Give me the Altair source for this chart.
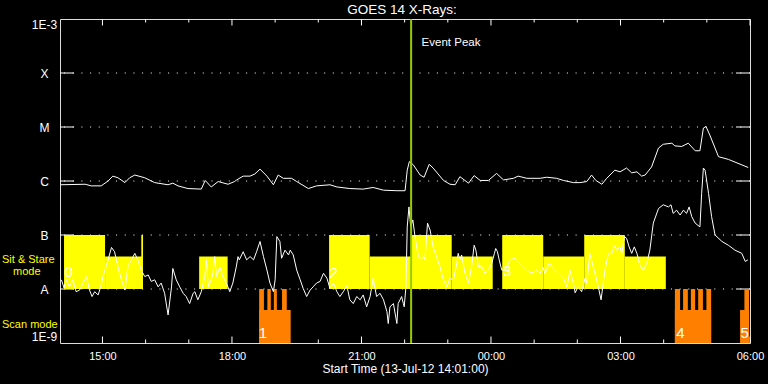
import json
import altair as alt
import pandas as pd

# ---------------- data ----------------
TITLE = "GOES 14 X-Rays:"
X_TITLE = "Start Time (13-Jul-12 14:01:00)"
X_START, X_END = 14 + 1 / 60, 30.0          # hours since 13-Jul-12 00:00
X_TICKS = [15, 18, 21, 24, 27, 30]
X_TICK_LABELS = ["15:00", "18:00", "21:00", "00:00", "03:00", "06:00"]
X_MINOR = [16, 17, 19, 20, 22, 23, 25, 26, 28, 29]
Y_TICKS = [-9, -8, -7, -6, -5, -4, -3]       # log10 flux (W m^-2)
Y_TICK_LABELS = ["1E-9", "A", "B", "C", "M", "X", "1E-3"]
Y_GRID = [-8, -7, -6, -5, -4]

# long channel (1-8 A)
LONG_T = [14.03, 14.60, 14.74, 14.97, 15.13, 15.24, 15.36, 15.52, 15.63, 15.75, 15.98, 16.21,
          16.52, 16.63, 16.75, 16.98, 17.29, 17.38, 17.52, 17.68, 17.91, 18.06, 18.11, 18.26,
          18.42, 18.53, 18.65, 18.81, 18.96, 19.07, 19.19, 19.38, 19.50, 19.77, 19.96, 20.27,
          20.43, 20.73, 21.04, 21.27, 21.51, 21.82, 22.01, 22.06, 22.11, 22.20, 22.36, 22.45,
          22.57, 22.66, 22.90, 23.05, 23.17, 23.28, 23.48, 23.61, 23.75, 23.94, 24.13, 24.29,
          24.52, 24.63, 24.83, 25.14, 25.29, 25.52, 25.68, 25.91, 26.06, 26.22, 26.33, 26.43,
          26.57, 26.68, 26.87, 26.99, 27.14, 27.26, 27.38, 27.49, 27.57, 27.72, 27.88, 27.99,
          28.19, 28.26, 28.42, 28.57, 28.73, 28.84, 28.92, 28.98, 29.07, 29.27, 29.50, 29.96]
LONG_LOGF = [-6.07, -6.06, -6.09, -6.09, -6.00, -5.91, -5.94, -6.03, -5.94, -5.89, -5.94, -6.03,
             -6.07, -6.04, -6.09, -6.14, -6.15, -5.99, -6.11, -6.01, -6.06, -6.01, -5.98, -5.91,
             -5.91, -5.87, -5.78, -5.91, -6.07, -5.89, -5.95, -5.95, -6.01, -6.14, -6.09, -6.07,
             -6.11, -6.14, -6.15, -6.12, -6.17, -6.18, -6.18, -5.80, -5.64, -5.70, -5.89, -5.93,
             -5.69, -5.76, -5.99, -6.06, -6.07, -5.92, -6.04, -5.90, -5.99, -5.99, -5.86, -5.98,
             -5.95, -5.91, -5.95, -5.95, -5.93, -5.95, -5.99, -6.03, -6.03, -6.01, -5.89, -5.99,
             -6.06, -5.95, -5.80, -5.83, -5.76, -5.85, -5.83, -5.91, -5.89, -5.74, -5.39, -5.32,
             -5.30, -5.35, -5.36, -5.30, -5.44, -5.44, -5.02, -4.99, -5.15, -5.55, -5.60, -5.75]

# short channel (0.5-4 A)
SHORT_T = [14.05, 14.11, 14.16, 14.24, 14.32, 14.39, 14.47, 14.55, 14.63, 14.70, 14.76, 14.82,
           14.90, 14.96, 15.01, 15.13, 15.21, 15.28, 15.36, 15.44, 15.52, 15.59, 15.67, 15.75,
           15.82, 15.90, 15.98, 16.06, 16.13, 16.21, 16.29, 16.36, 16.44, 16.52, 16.60, 16.63,
           16.71, 16.79, 16.87, 16.94, 17.02, 17.10, 17.14, 17.21, 17.29, 17.37, 17.41, 17.45,
           17.52, 17.56, 17.60, 17.64, 17.72, 17.79, 17.87, 17.95, 18.02, 18.10, 18.14, 18.17,
           18.26, 18.34, 18.42, 18.50, 18.57, 18.65, 18.73, 18.81, 18.88, 18.96, 19.00, 19.04,
           19.11, 19.15, 19.23, 19.31, 19.35, 19.42, 19.50, 19.58, 19.65, 19.73, 19.81, 19.88,
           19.96, 20.04, 20.12, 20.20, 20.27, 20.35, 20.43, 20.50, 20.58, 20.66, 20.73, 20.81,
           20.89, 20.97, 21.04, 21.12, 21.20, 21.27, 21.35, 21.43, 21.51, 21.59, 21.62, 21.66,
           21.74, 21.82, 21.85, 21.93, 21.97, 21.99, 22.03, 22.06, 22.10, 22.14, 22.19, 22.24,
           22.32, 22.37, 22.43, 22.47, 22.53, 22.59, 22.66, 22.74, 22.82, 22.90, 22.98, 23.05,
           23.13, 23.21, 23.24, 23.28, 23.32, 23.40, 23.48, 23.55, 23.61, 23.65, 23.71, 23.79,
           23.86, 23.94, 24.02, 24.08, 24.11, 24.15, 24.19, 24.25, 24.33, 24.44, 24.56, 24.67,
           24.83, 24.94, 25.06, 25.14, 25.20, 25.25, 25.35, 25.44, 25.56, 25.68, 25.76, 25.83,
           25.91, 25.95, 26.02, 26.10, 26.18, 26.22, 26.29, 26.37, 26.45, 26.55, 26.64, 26.72,
           26.80, 26.86, 26.91, 26.99, 27.03, 27.09, 27.14, 27.20, 27.26, 27.32, 27.38, 27.45,
           27.53, 27.61, 27.68, 27.76, 27.88, 27.99, 28.11, 28.17, 28.22, 28.30, 28.38, 28.46,
           28.53, 28.59, 28.65, 28.73, 28.84, 28.88, 28.92, 28.96, 29.04, 29.11, 29.19, 29.35,
           29.50, 29.65, 29.81, 29.89, 29.95]
SHORT_LOGF = [-7.83, -7.98, -7.83, -7.96, -7.83, -8.05, -8.02, -7.89, -7.77, -8.02, -8.14, -8.05,
              -8.11, -7.96, -7.77, -7.46, -7.23, -7.31, -7.59, -7.83, -8.02, -7.59, -7.46, -7.34,
              -7.46, -7.65, -7.77, -7.74, -7.86, -7.83, -7.96, -7.89, -8.08, -8.48, -7.96, -7.62,
              -7.83, -7.96, -8.08, -8.14, -8.27, -8.08, -8.05, -8.20, -8.05, -7.77, -7.46, -7.96,
              -7.83, -7.71, -7.40, -7.77, -7.59, -7.77, -7.89, -8.05, -7.89, -7.59, -7.40, -7.46,
              -7.31, -7.46, -7.40, -7.46, -7.31, -7.12, -7.40, -7.65, -7.89, -8.05, -7.83, -7.03,
              -7.12, -7.43, -7.28, -7.37, -7.28, -7.37, -7.65, -7.83, -7.99, -8.14, -8.02, -7.96,
              -7.89, -7.86, -7.71, -7.80, -7.99, -7.89, -8.05, -8.14, -8.05, -7.93, -8.20, -8.27,
              -8.14, -8.20, -8.11, -8.33, -8.14, -7.80, -8.14, -8.08, -8.20, -8.42, -8.64, -8.33,
              -8.27, -8.64, -8.27, -8.14, -8.27, -8.33, -7.96, -6.85, -6.48, -6.85, -6.72, -7.03,
              -7.40, -7.46, -7.40, -7.46, -6.78, -6.91, -7.22, -7.40, -7.59, -7.83, -7.96, -7.80,
              -7.83, -7.52, -7.34, -7.46, -7.37, -7.71, -7.89, -7.59, -7.19, -7.28, -7.59, -7.59,
              -7.71, -7.65, -7.52, -7.34, -7.25, -7.31, -7.46, -7.65, -7.65, -7.46, -7.43, -7.52,
              -7.65, -7.71, -7.65, -7.71, -7.59, -7.71, -7.52, -7.62, -7.71, -7.80, -7.96, -7.65,
              -7.89, -8.07, -7.96, -8.05, -7.80, -7.89, -7.34, -7.59, -7.83, -8.20, -7.65, -7.34,
              -7.34, -7.19, -7.28, -7.22, -7.34, -7.03, -7.06, -7.22, -7.34, -7.22, -7.34, -7.56,
              -7.65, -7.52, -7.28, -6.78, -6.51, -6.44, -6.48, -6.44, -6.60, -6.54, -6.63, -6.54,
              -6.60, -6.48, -6.66, -6.78, -6.85, -6.23, -5.76, -5.80, -6.23, -6.66, -7.00, -7.12,
              -7.19, -7.28, -7.34, -7.49, -7.46]

# Sit & Stare mode intervals (yellow)
SIT_START = [14.11, 15.06, 15.90, 17.24, 20.25, 21.19, 22.15, 23.09, 24.26, 25.21, 26.16, 27.10]
SIT_END = [15.06, 15.93, 15.94, 17.90, 21.19, 22.15, 23.09, 24.04, 25.21, 26.16, 27.10, 28.05]
SIT_TOP = [-7.0, -7.4, -7.0, -7.4, -7.0, -7.4, -7.0, -7.4, -7.0, -7.4, -7.0, -7.4]
SIT_BASE = -8.0

# Scan mode intervals (orange)
SCAN_START = [18.63, 18.63, 18.82, 18.97, 19.16,
              28.26, 28.26, 28.45, 28.63, 28.80, 28.99,
              29.77, 29.87]
SCAN_END = [19.36, 18.74, 18.90, 19.04, 19.27,
            29.10, 28.38, 28.56, 28.73, 28.91, 29.10,
            29.98, 29.98]
SCAN_TOP = [-8.39, -8.0, -8.0, -8.0, -8.0,
            -8.39, -8.0, -8.0, -8.0, -8.0, -8.0,
            -8.39, -8.0]
SCAN_BASE = -9.0

EVENT_PEAK = 22.15
EVENT_LABEL = "Event Peak"
EVENT_LABEL_Y = -3.44

BLOCK_LABELS = ["0", "1", "2", "3", "4", "5"]
BLOCK_LABEL_T = [14.12, 18.62, 20.26, 24.28, 28.29, 29.78]
BLOCK_LABEL_Y = [-7.69, -8.81, -7.70, -7.67, -8.81, -8.81]

# side labels, placed by their text baseline (log10 flux)
MODE_LABELS = ["Sit & Stare", "Scan mode"]
MODE_LABEL_Y = [-7.52, -8.72]
MODE_LABEL2 = ["mode"]
MODE_LABEL2_Y = [-7.74]

# ---------------- chart ----------------
W, H = 690, 324
FONT = "Liberation Sans"
YELLOW = "#ffff00"
ORANGE = "#ff8000"
GREEN = "#99cc00"

xscale = alt.Scale(domain=[X_START, X_END], nice=False, zero=False)
yscale = alt.Scale(domain=[-9, -3], nice=False, zero=False)

x_axis = alt.Axis(
    values=X_TICKS,
    labelExpr=f"{json.dumps(X_TICK_LABELS)}[indexof({json.dumps(X_TICKS)}, datum.value)]",
    ticks=False, tickSize=0, domain=False, grid=False,
    labelColor="white", labelFont=FONT, labelFontSize=11, labelPadding=7,
    labelFlush=False, labelOverlap=False,
    title=X_TITLE, titleColor="white", titleFont=FONT, titleFontSize=12,
    titleFontWeight="normal", titleX=W / 2, titleY=29, titleAlign="center",
    titleBaseline="alphabetic",
)
y_axis = alt.Axis(
    values=Y_TICKS,
    labelExpr=f"{json.dumps(Y_TICK_LABELS)}[indexof({json.dumps(Y_TICKS)}, datum.value)]",
    ticks=False, tickSize=0, domain=False, grid=False,
    labelColor="white", labelFont=FONT, labelFontSize=12, labelPadding=16,
    labelAlign="center", labelFlush=True, labelOverlap=False, title=None,
)


def X(field):
    return alt.X(f"{field}:Q", scale=xscale, axis=x_axis)


def Y(field):
    return alt.Y(f"{field}:Q", scale=yscale, axis=y_axis)


grid_df = pd.DataFrame({"v": Y_GRID})
grid = alt.Chart(grid_df).mark_rule(color="white", strokeWidth=1, strokeDash=[1, 7.67]).encode(y=Y("v"))
ytick_l = alt.Chart(grid_df).mark_rule(color="white", strokeWidth=1).encode(
    y=Y("v"), x=alt.value(0), x2=alt.value(14))
ytick_r = alt.Chart(grid_df).mark_rule(color="white", strokeWidth=1).encode(
    y=Y("v"), x=alt.value(W - 14), x2=alt.value(W))

major_df = pd.DataFrame({"t": X_TICKS})
minor_df = pd.DataFrame({"t": X_MINOR})
xt_major_b = alt.Chart(major_df).mark_rule(color="white").encode(x=X("t"), y=alt.value(H - 6.5), y2=alt.value(H))
xt_major_t = alt.Chart(major_df).mark_rule(color="white").encode(x=X("t"), y=alt.value(0), y2=alt.value(6.5))
xt_minor_b = alt.Chart(minor_df).mark_rule(color="white").encode(x=X("t"), y=alt.value(H - 3.5), y2=alt.value(H))
xt_minor_t = alt.Chart(minor_df).mark_rule(color="white").encode(x=X("t"), y=alt.value(0), y2=alt.value(3.5))

sit_df = pd.DataFrame({"t0": SIT_START, "t1": SIT_END, "top": SIT_TOP, "base": [SIT_BASE] * len(SIT_START)})
sit = alt.Chart(sit_df).mark_rect(color=YELLOW).encode(x=X("t0"), x2="t1", y=Y("base"), y2="top")

scan_df = pd.DataFrame({"t0": SCAN_START, "t1": SCAN_END, "top": SCAN_TOP, "base": [SCAN_BASE] * len(SCAN_START)})
scan = alt.Chart(scan_df).mark_rect(color=ORANGE).encode(x=X("t0"), x2="t1", y=Y("base"), y2="top")

long_line = alt.Chart(pd.DataFrame({"t": LONG_T, "v": LONG_LOGF})).mark_line(
    color="white", strokeWidth=1).encode(x=X("t"), y=Y("v"))
short_line = alt.Chart(pd.DataFrame({"t": SHORT_T, "v": SHORT_LOGF})).mark_line(
    color="white", strokeWidth=1).encode(x=X("t"), y=Y("v"))

event = alt.Chart(pd.DataFrame({"t": [EVENT_PEAK]})).mark_rule(color=GREEN, strokeWidth=2).encode(x=X("t"))
event_txt = alt.Chart(pd.DataFrame({"t": [EVENT_PEAK], "v": [EVENT_LABEL_Y], "s": [EVENT_LABEL]})).mark_text(
    color="white", align="left", baseline="middle", dx=10.5, font=FONT, fontSize=11.5
).encode(x=X("t"), y=Y("v"), text="s:N")

block_txt = alt.Chart(pd.DataFrame({"t": BLOCK_LABEL_T, "v": BLOCK_LABEL_Y, "s": BLOCK_LABELS})).mark_text(
    color="white", align="left", baseline="middle", font=FONT, fontSize=15
).encode(x=X("t"), y=Y("v"), text="s:N")

mode_txt = alt.Chart(pd.DataFrame({"v": MODE_LABEL_Y, "s": MODE_LABELS})).mark_text(
    color=YELLOW, align="left", baseline="alphabetic", font=FONT, fontSize=11
).encode(x=alt.value(-58), y=Y("v"), text="s:N")
mode_txt2 = alt.Chart(pd.DataFrame({"v": MODE_LABEL2_Y, "s": MODE_LABEL2})).mark_text(
    color=YELLOW, align="left", baseline="alphabetic", font=FONT, fontSize=11
).encode(x=alt.value(-47), y=Y("v"), text="s:N")

title_txt = alt.Chart(pd.DataFrame({"s": [TITLE]})).mark_text(
    color="white", align="center", baseline="alphabetic", font=FONT, fontSize=13.5
).encode(x=alt.value(W / 2 - 3), y=alt.value(-5), text="s:N")

chart = alt.layer(
    grid, ytick_l, ytick_r, xt_major_b, xt_major_t, xt_minor_b, xt_minor_t,
    sit, scan, long_line, short_line, event, event_txt, block_txt, mode_txt, mode_txt2,
    title_txt,
).properties(
    width=W, height=H,
    background="black",
    padding={"left": 60, "top": 19, "right": 18, "bottom": 41},
    autosize=alt.AutoSizeParams(type="none"),
).configure_view(stroke="white", strokeWidth=1).configure(font=FONT)

chart.save("out.html", embed_options={"renderer": "svg", "actions": False})
